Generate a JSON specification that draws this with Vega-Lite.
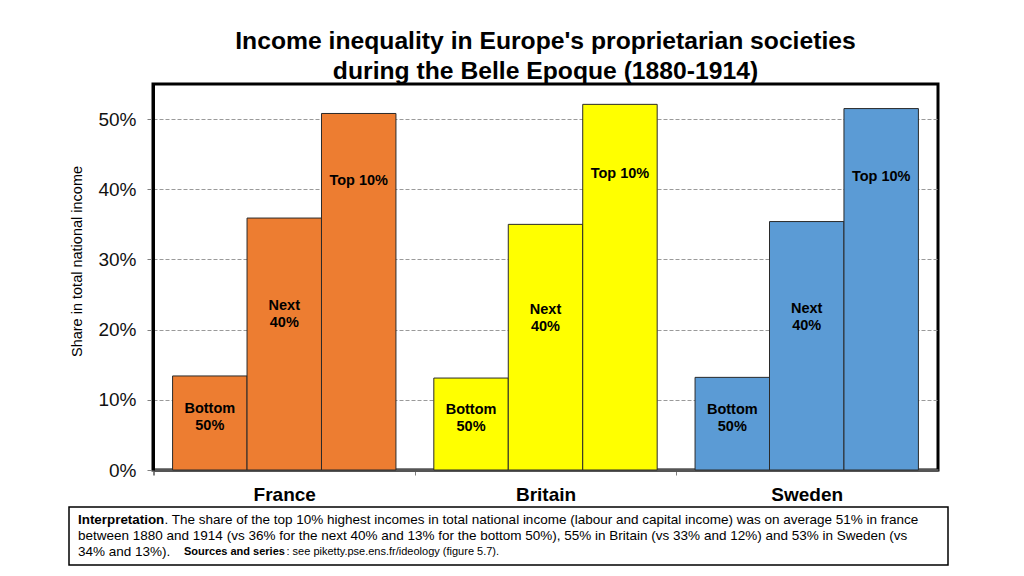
{
  "$schema": "https://vega.github.io/schema/vega-lite/v6.json",
  "background": "white",
  "padding": {"left": 68, "top": 27, "right": 10, "bottom": 5},
  "config": {
    "font": "Liberation Sans",
    "view": {"stroke": null}
  },
  "spacing": 0,
  "vconcat": [
    {
      "width": 785,
      "height": 386,
      "view": {"stroke": "#000000", "strokeWidth": 3},
      "title": {
        "text": ["Income inequality in Europe's proprietarian societies", "during the Belle Epoque (1880-1914)"],
        "fontSize": 24.7,
        "fontWeight": "bold",
        "font": "Liberation Sans",
        "color": "#000000",
        "lineHeight": 30,
        "anchor": "middle",
        "frame": "group",
        "offset": 0
      },
      "data": {
        "values": [
          {"country": "France", "group": "Bottom 50%", "label": "Bottom\n50%", "share": 0.134},
          {"country": "France", "group": "Next 40%", "label": "Next\n40%", "share": 0.359},
          {"country": "France", "group": "Top 10%", "label": "Top 10%", "share": 0.508},
          {"country": "Britain", "group": "Bottom 50%", "label": "Bottom\n50%", "share": 0.131},
          {"country": "Britain", "group": "Next 40%", "label": "Next\n40%", "share": 0.350},
          {"country": "Britain", "group": "Top 10%", "label": "Top 10%", "share": 0.521},
          {"country": "Sweden", "group": "Bottom 50%", "label": "Bottom\n50%", "share": 0.132},
          {"country": "Sweden", "group": "Next 40%", "label": "Next\n40%", "share": 0.354},
          {"country": "Sweden", "group": "Top 10%", "label": "Top 10%", "share": 0.515}
        ]
      },
      "encoding": {
        "x": {
          "field": "country",
          "type": "nominal",
          "sort": ["France", "Britain", "Sweden"],
          "scale": {"paddingInner": 0.145, "paddingOuter": 0.075},
          "axis": {
            "title": null,
            "labelAngle": 0,
            "labelFontSize": 19,
            "labelFontWeight": "bold",
            "labelColor": "#000000",
            "labelPadding": 10,
            "labelOffset": 19,
            "bandPosition": 0,
            "tickOffset": -19,
            "tickExtra": true,
            "tickSize": 5,
            "tickColor": "#808080",
            "domainColor": "#555555",
            "domainWidth": 3
          }
        },
        "xOffset": {"field": "group", "type": "nominal", "sort": ["Bottom 50%", "Next 40%", "Top 10%"]}
      },
      "layer": [
        {
          "mark": {"type": "bar", "stroke": "#2a2a2a", "strokeWidth": 1},
          "encoding": {
            "y": {
              "field": "share",
              "type": "quantitative",
              "scale": {"domain": [0, 0.55], "nice": false},
              "axis": {
                "title": "Share in total national income",
                "titleFontSize": 14.5,
                "titleFontWeight": "normal",
                "titleColor": "#000000",
                "titlePadding": 13,
                "titleY": 177,
                "format": ".0%",
                "values": [0, 0.1, 0.2, 0.3, 0.4, 0.5],
                "labelFontSize": 19,
                "labelColor": "#111111",
                "labelPadding": 11,
                "tickSize": 6,
                "tickColor": "#808080",
                "domainColor": "#000000",
                "domainWidth": 3,
                "grid": true,
                "gridColor": "#9a9a9a",
                "gridDash": [4, 2],
                "gridWidth": 1
              }
            },
            "color": {
              "field": "country",
              "type": "nominal",
              "scale": {"domain": ["France", "Britain", "Sweden"], "range": ["#ED7D31", "#FFFF00", "#5B9BD5"]},
              "legend": null
            }
          }
        },
        {
          "transform": [
            {"calculate": "datum.share * (datum.group == 'Top 10%' ? 0.81 : 0.65)", "as": "labelY"}
          ],
          "mark": {"type": "text", "fontSize": 14.5, "fontWeight": "bold", "color": "#000000", "lineBreak": "\n", "lineHeight": 17, "baseline": "middle", "align": "center"},
          "encoding": {
            "y": {"field": "labelY", "type": "quantitative"},
            "text": {"field": "label"}
          }
        }
      ]
    },
    {
      "width": 785,
      "height": 58,
      "encoding": {
        "x": {"datum": 0, "type": "quantitative", "scale": {"domain": [0, 1], "range": [-84, 795]}, "axis": null}
      },
      "layer": [
        {
          "data": {"values": [{"part": "frame"}]},
          "mark": {"type": "rect", "fillOpacity": 0, "stroke": "#000000", "strokeWidth": 1.5},
          "encoding": {"x2": {"datum": 1}}
        },
        {
          "data": {"values": [{"line": 1, "text": "Interpretation"}]},
          "mark": {"type": "text", "align": "left", "baseline": "middle", "fontSize": 13.4, "fontWeight": "bold", "color": "#000000", "dx": 9},
          "encoding": {
            "y": {"field": "line", "type": "ordinal", "scale": {"type": "point", "padding": 0.8, "domain": [1, 2, 3]}, "axis": null},
            "text": {"field": "text"}
          }
        },
        {
          "data": {"values": [{"line": 1, "text": ". The share of the top 10% highest incomes in total national income (labour and capital income) was on average 51% in france"}]},
          "mark": {"type": "text", "align": "left", "baseline": "middle", "fontSize": 13.5, "color": "#000000", "dx": 95.4},
          "encoding": {
            "y": {"field": "line", "type": "ordinal", "axis": null},
            "text": {"field": "text"}
          }
        },
        {
          "data": {"values": [
            {"line": 2, "text": "between 1880 and 1914 (vs 36% for the next 40% and 13% for the bottom 50%), 55% in Britain (vs 33% and 12%) and 53% in Sweden (vs"},
            {"line": 3, "text": "34% and 13%)."}
          ]},
          "mark": {"type": "text", "align": "left", "baseline": "middle", "fontSize": 13.5, "color": "#000000", "dx": 9},
          "encoding": {
            "y": {"field": "line", "type": "ordinal", "axis": null},
            "text": {"field": "text"}
          }
        },
        {
          "data": {"values": [{"line": 3, "text": "Sources and series"}]},
          "mark": {"type": "text", "align": "left", "baseline": "middle", "fontSize": 11, "fontWeight": "bold", "color": "#000000", "dx": 115},
          "encoding": {
            "y": {"field": "line", "type": "ordinal", "axis": null},
            "text": {"field": "text"}
          }
        },
        {
          "data": {"values": [{"line": 3, "text": ": see piketty.pse.ens.fr/ideology (figure 5.7)."}]},
          "mark": {"type": "text", "align": "left", "baseline": "middle", "fontSize": 11, "color": "#000000", "dx": 217.5},
          "encoding": {
            "y": {"field": "line", "type": "ordinal", "axis": null},
            "text": {"field": "text"}
          }
        }
      ]
    }
  ]
}
